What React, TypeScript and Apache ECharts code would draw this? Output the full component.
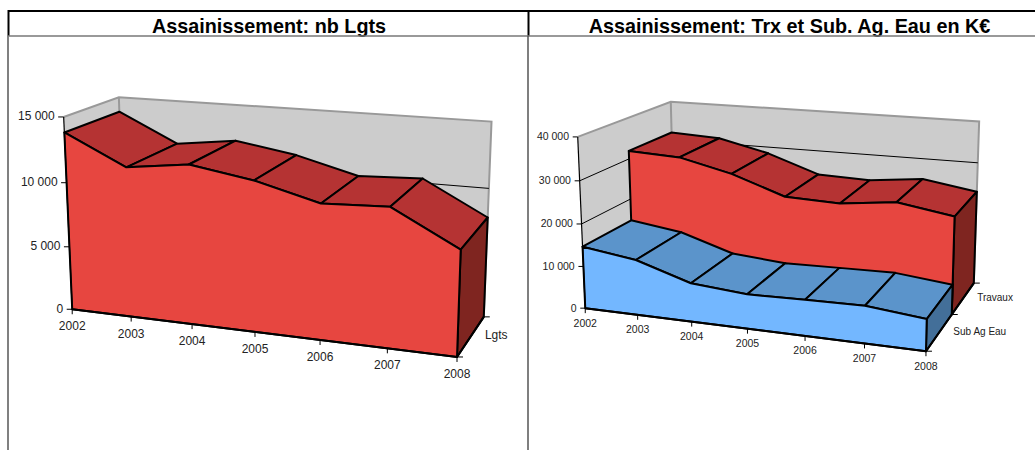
import React, { useEffect, useRef } from "react";
import * as echarts from "echarts";

const years = ["2002", "2003", "2004", "2005", "2006", "2007", "2008"];
const logements = [13830, 11570, 12170, 11390, 10140, 10345, 7780];
const subAgEau = [14660, 12910, 8940, 7910, 8180, 8410, 7070];
const travaux = [31950, 31350, 28400, 24000, 23560, 24990, 22900];
const leftTicks = [0, 5000, 10000, 15000];
const rightTicks = [0, 10000, 20000, 30000, 40000];
const leftMax = 15000;
const rightMax = 40000;

const FONT = "Liberation Sans";
const COLORS = {
  redFront: "#e74640", redTop: "#b53333", redSide: "#7f2520",
  blueFront: "#73b7ff", blueTop: "#5b94cb", blueSide: "#436f99",
  wall: "#cccccc", wallEdge: "#999999", ink: "#000000", text: "#222222",
};

type Calib = [number, number, number, number, number];

// Camera calibration: [year index, value share, depth] -> picture position
const leftCalib: Calib[] = [
  [0, 0, 0, 72.5, 309.5], [6, 0, 0, 457.5, 357], [0, 1, 0, 64, 117],
  [6, 0, 1, 484, 317], [6, 1, 1, 492, 121.5], [0, 1, 1, 119, 97],
  [1, 0, 0, 131, 316.4], [3, 0, 0, 255, 331.8], [5, 0, 0, 387, 348],
  [0, 2 / 3, 0, 66, 183], [6, 2 / 3, 1, 488, 188.7],
];
const rightCalib: Calib[] = [
  [0, 0, 0, 585.3, 308.3], [6, 0, 0, 926, 351], [0, 1, 0, 577.7, 136.7],
  [6, 0, 1, 974, 282.7], [6, 1, 1, 980, 121.7], [0, 1, 1, 670.7, 101.7],
  [6, 0, 0.5, 952, 315], [1, 0, 0, 637.7, 314.9], [3, 0, 0, 747.3, 328.6],
  [5, 0, 0, 864.3, 343.4], [0, 0.5, 0, 581.7, 224], [6, 0.75, 1, 976.7, 162.7],
];

function solve(A: number[][], b: number[]) {
  const n = b.length;
  const M = A.map((r, i) => [...r, b[i]]);
  for (let c = 0; c < n; c++) {
    let p = c;
    for (let r = c + 1; r < n; r++) if (Math.abs(M[r][c]) > Math.abs(M[p][c])) p = r;
    [M[c], M[p]] = [M[p], M[c]];
    for (let r = 0; r < n; r++) {
      if (r === c) continue;
      const f = M[r][c] / M[c][c];
      for (let k = c; k <= n; k++) M[r][k] -= f * M[c][k];
    }
  }
  return M.map((r, i) => r[n] / r[i]);
}

function fitCamera(points: Calib[]) {
  const rows: number[][] = [];
  const rhs: number[] = [];
  for (const [i, v, d, x, y] of points) {
    rows.push([i, v, d, 1, 0, 0, 0, 0, -x * i, -x * v, -x * d]);
    rhs.push(x);
    rows.push([0, 0, 0, 0, i, v, d, 1, -y * i, -y * v, -y * d]);
    rhs.push(y);
  }
  const n = 11;
  const A = Array.from({ length: n }, (_, a) =>
    Array.from({ length: n }, (_, b) => rows.reduce((s, r) => s + r[a] * r[b], 0)));
  const B = Array.from({ length: n }, (_, a) => rows.reduce((s, r, k) => s + r[a] * rhs[k], 0));
  const p = solve(A, B);
  return (i: number, v: number, d: number) => {
    const w = p[8] * i + p[9] * v + p[10] * d + 1;
    return [(p[0] * i + p[1] * v + p[2] * d + p[3]) / w, (p[4] * i + p[5] * v + p[6] * d + p[7]) / w];
  };
}

type Rect = { left: number; top: number; width: number; height: number };

function makeChart(index: number, rect: Rect, calib: Calib[], z0: number) {
  const camera = fitCamera(calib);
  // go through the hidden cartesian axes, then through the camera
  const P = (api: any, cat: number, value: number, d: number) => {
    const [px, py] = api.coord([cat, value]);
    const u = ((px - rect.left) / rect.width) * (years.length - 1);
    const v = (rect.top + rect.height - py) / rect.height;
    return camera(u, v, d);
  };
  let z = z0;
  const base = () => ({
    type: "custom" as const,
    coordinateSystem: "cartesian2d",
    xAxisIndex: index,
    yAxisIndex: index,
    silent: true,
    z: z++,
    encode: { x: 0, y: 1 },
  });
  return { P, base };
}

const LEFT_RECT: Rect = { left: 70, top: 100, width: 380, height: 200 };
const RIGHT_RECT: Rect = { left: 590, top: 100, width: 330, height: 200 };

function wallSeries(c: any, max: number, ticks: number[]) {
  const last = years.length - 1;
  return [
    {
      ...c.base(),
      data: [[0, 0]],
      renderItem: (_: any, api: any) => {
        const P = (i: number, v: number, d: number) => c.P(api, i, v, d);
        const edge = { stroke: COLORS.wallEdge, lineWidth: 2, fill: "none" };
        return {
          type: "group",
          children: [
            { type: "polygon", shape: { points: [P(0, 0, 1), P(last, 0, 1), P(last, max, 1), P(0, max, 1)] }, style: { fill: COLORS.wall } },
            { type: "polygon", shape: { points: [P(0, 0, 0), P(0, 0, 1), P(0, max, 1), P(0, max, 0)] }, style: { fill: COLORS.wall } },
            { type: "polyline", shape: { points: [P(0, max, 0), P(0, max, 1), P(last, max, 1), P(last, 0, 1)] }, style: edge },
            { type: "polyline", shape: { points: [P(0, max, 1), P(0, 0, 1)] }, style: edge },
          ],
        };
      },
    },
    {
      ...c.base(),
      data: ticks.filter((t) => t > 0 && t < max).map((t) => [0, t]),
      renderItem: (_: any, api: any) => {
        const t = api.value(1);
        return {
          type: "polyline",
          shape: { points: [c.P(api, 0, t, 0), c.P(api, 0, t, 1), c.P(api, last, t, 1)] },
          style: { stroke: COLORS.ink, lineWidth: 1, fill: "none" },
        };
      },
    },
  ];
}

function areaSeries(c: any, values: number[], d0: number, d1: number, col: { front: string; top: string; side: string }) {
  const last = values.length - 1;
  const edge = { stroke: COLORS.ink, lineWidth: 2, lineJoin: "round" };
  return [
    {
      ...c.base(),
      data: values.map((v, i) => [i, v, values[i + 1] ?? v]),
      renderItem: (_: any, api: any) => {
        const i = api.value(0);
        const v = api.value(1);
        const n = api.value(2);
        if (i === last) {
          return {
            type: "polygon",
            shape: { points: [c.P(api, i, v, d0), c.P(api, i, v, d1), c.P(api, i, 0, d1), c.P(api, i, 0, d0)] },
            style: { fill: col.side, ...edge },
          };
        }
        return {
          type: "polygon",
          shape: { points: [c.P(api, i, v, d0), c.P(api, i + 1, n, d0), c.P(api, i + 1, n, d1), c.P(api, i, v, d1)] },
          style: { fill: col.top, ...edge },
        };
      },
    },
    {
      ...c.base(),
      data: [[0, values[0]]],
      renderItem: (_: any, api: any) => ({
        type: "polygon",
        shape: {
          points: [
            ...values.map((v, k) => c.P(api, k, v, d0)),
            c.P(api, last, 0, d0),
            c.P(api, 0, 0, d0),
          ],
        },
        style: { fill: col.front, ...edge },
      }),
    },
  ];
}

function axisSeries(
  c: any, ticks: number[], depthNames: { name: string; d: number }[], depthMarks: number[],
  o: { size: number; depthSize: number; yearDy: number; yGap: number; yTick: number; depthDx: number; xTick: number; depthTick: number }
) {
  const last = years.length - 1;
  const tickLine = { stroke: COLORS.ink, lineWidth: 1, fill: "none" };
  const label = (text: string, x: number, y: number, align: string, size: number) => ({
    type: "text",
    style: { text, x, y, align, verticalAlign: "middle", fill: COLORS.text, fontSize: size, fontFamily: FONT },
  });
  return [
    {
      ...c.base(),
      data: ticks.map((t) => [0, t]),
      renderItem: (_: any, api: any) => {
        const t = api.value(1);
        const [x, y] = c.P(api, 0, t, 0);
        return {
          type: "group",
          children: [
            { type: "line", shape: { x1: x - o.yTick, y1: y, x2: x, y2: y }, style: tickLine },
            label(t === 0 ? "0" : `${t / 1000} 000`, x - o.yGap, y - 0.5, "right", o.size),
          ],
        };
      },
    },
    {
      ...c.base(),
      data: years.map((_, i) => [i, 0]),
      renderItem: (_: any, api: any) => {
        const i = api.value(0);
        const [x, y] = c.P(api, i, 0, 0);
        return {
          type: "group",
          children: [
            { type: "line", shape: { x1: x, y1: y, x2: x, y2: y + o.xTick }, style: tickLine },
            label(years[i], x, y + o.yearDy, "center", o.size),
          ],
        };
      },
    },
    {
      ...c.base(),
      data: [[0, 0]],
      renderItem: (_: any, api: any) => {
        const children: any[] = [
          {
            type: "polyline",
            shape: { points: [c.P(api, 0, 0, 0), c.P(api, last, 0, 0), c.P(api, last, 0, 1)] },
            style: { stroke: COLORS.ink, lineWidth: 2, fill: "none" },
          },
          {
            type: "polyline",
            shape: { points: [c.P(api, 0, ticks[ticks.length - 1], 0), c.P(api, 0, 0, 0)] },
            style: { stroke: COLORS.ink, lineWidth: 1.2, fill: "none" },
          },
        ];
        depthMarks.forEach((d) => {
          const [x, y] = c.P(api, last, 0, d);
          children.push({ type: "line", shape: { x1: x, y1: y, x2: x + o.depthTick, y2: y }, style: tickLine });
        });
        depthNames.forEach(({ name, d }) => {
          const [x, y] = c.P(api, last, 0, d);
          children.push(label(name, x + o.depthDx, y - 1, "left", o.depthSize));
        });
        return { type: "group", children };
      },
    },
  ];
}

function buildOption() {
  const left = makeChart(0, LEFT_RECT, leftCalib, 10);
  const right = makeChart(1, RIGHT_RECT, rightCalib, 40);
  const red = { front: COLORS.redFront, top: COLORS.redTop, side: COLORS.redSide };
  const blue = { front: COLORS.blueFront, top: COLORS.blueTop, side: COLORS.blueSide };
  const frame = (x1: number, y1: number, x2: number, y2: number, stroke: string, lineWidth: number) => ({
    type: "line", silent: true, z: 100, shape: { x1, y1, x2, y2 }, style: { stroke, lineWidth },
  });
  const titleStyle = { fontFamily: FONT, fontWeight: "bold", fontSize: 19.8, color: "#000" };
  return {
    animation: false,
    backgroundColor: "#ffffff",
    title: [
      { text: "Assainissement: nb Lgts", left: 269, top: 16, textAlign: "center", textStyle: titleStyle, padding: 0 },
      { text: "Assainissement: Trx et Sub. Ag. Eau en K€", left: 789.5, top: 16, textAlign: "center", textStyle: titleStyle, padding: 0 },
    ],
    grid: [LEFT_RECT, RIGHT_RECT].map((r) => ({ ...r, containLabel: false, show: false })),
    xAxis: [0, 1].map((gridIndex) => ({ gridIndex, type: "category", data: years, boundaryGap: false, show: false })),
    yAxis: [
      { gridIndex: 0, type: "value", min: 0, max: leftMax, interval: 5000, show: false },
      { gridIndex: 1, type: "value", min: 0, max: rightMax, interval: 10000, show: false },
    ],
    graphic: [
      frame(8, 11, 1035, 11, "#000", 2),
      frame(8.5, 10, 8.5, 36, "#000", 2),
      frame(528.5, 11, 528.5, 36, "#000", 2),
      frame(8, 36, 1035, 36, "#777", 1.5),
      frame(8, 36, 8, 450, "#808080", 2),
      frame(528, 36, 528, 450, "#555", 1.5),
    ],
    series: [
      ...wallSeries(left, leftMax, leftTicks),
      ...areaSeries(left, logements, 0, 1, red),
      ...axisSeries(left, leftTicks, [{ name: "Lgts", d: 0.5 }], [0, 1], {
        size: 12, depthSize: 12, yearDy: 17, yGap: 9, yTick: 5.5, depthDx: 14, xTick: 5, depthTick: 6,
      }),
      ...wallSeries(right, rightMax, rightTicks),
      ...areaSeries(right, travaux, 0.5, 1, red),
      ...areaSeries(right, subAgEau, 0, 0.5, blue),
      ...axisSeries(right, rightTicks, [{ name: "Sub Ag Eau", d: 0.25 }, { name: "Travaux", d: 0.75 }], [0, 0.5, 1], {
        size: 10.5, depthSize: 10, yearDy: 14.5, yGap: 8.7, yTick: 5, depthDx: 14, xTick: 5, depthTick: 6,
      }),
    ],
  };
}

export default function App() {
  const ref = useRef<HTMLDivElement>(null);
  useEffect(() => {
    const chart = echarts.init(ref.current!, undefined, { renderer: "svg" });
    chart.setOption(buildOption() as any);
    return () => chart.dispose();
  }, []);
  return <div ref={ref} style={{ position: "fixed", left: 0, top: 0, width: 1035, height: 450 }} />;
}
